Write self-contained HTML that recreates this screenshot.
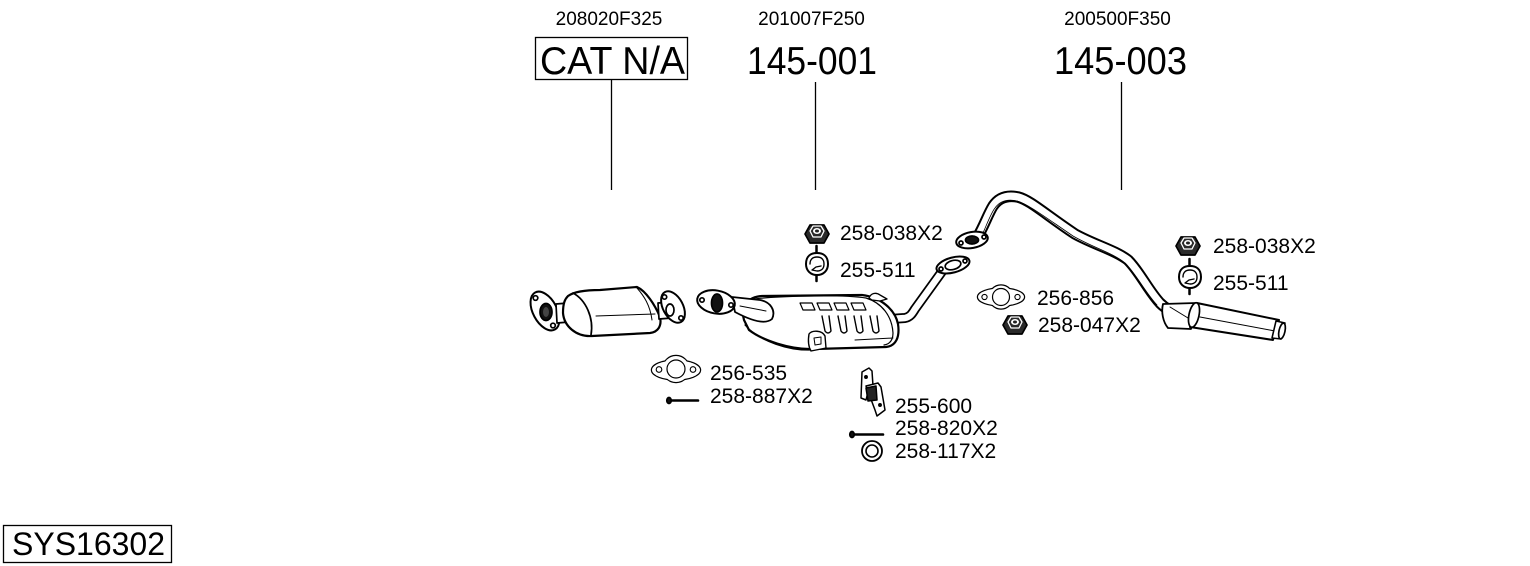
<!DOCTYPE html>
<html><head><meta charset="utf-8">
<style>
html,body{margin:0;padding:0;background:#fff;}
svg{display:block;}
text{font-family:"Liberation Sans",Arial,sans-serif;fill:#000;}
</style></head>
<body>
<svg width="1530" height="566" viewBox="0 0 1530 566" xmlns="http://www.w3.org/2000/svg">
<rect width="1530" height="566" fill="#fff"/>

<!-- Headers -->
<text x="609" y="25" font-size="19" text-anchor="middle">208020F325</text>
<text x="811.5" y="25" font-size="19" text-anchor="middle">201007F250</text>
<text x="1117.5" y="25" font-size="19" text-anchor="middle">200500F350</text>

<rect x="535.5" y="37.5" width="152" height="42" fill="none" stroke="#000" stroke-width="1.3"/>
<text x="540" y="74" font-size="39" textLength="145" lengthAdjust="spacingAndGlyphs">CAT N/A</text>
<text x="747" y="74" font-size="39" textLength="130" lengthAdjust="spacingAndGlyphs">145-001</text>
<text x="1054" y="74" font-size="39" textLength="133" lengthAdjust="spacingAndGlyphs">145-003</text>

<line x1="611.5" y1="80" x2="611.5" y2="190" stroke="#000" stroke-width="1.3"/>
<line x1="815.5" y1="82" x2="815.5" y2="190" stroke="#000" stroke-width="1.3"/>
<line x1="1121.5" y1="82" x2="1121.5" y2="190" stroke="#000" stroke-width="1.3"/>

<!-- SYS box -->
<rect x="3.5" y="525.5" width="168" height="37" fill="none" stroke="#000" stroke-width="1.3"/>
<text x="12" y="555" font-size="32">SYS16302</text>

<!-- Labels -->
<g font-size="21">
<text x="840" y="240">258-038X2</text>
<text x="840" y="277">255-511</text>
<text x="1037" y="305">256-856</text>
<text x="1038" y="332">258-047X2</text>
<text x="1213" y="253">258-038X2</text>
<text x="1213" y="290">255-511</text>
<text x="710" y="380">256-535</text>
<text x="710" y="403">258-887X2</text>
<text x="895" y="413">255-600</text>
<text x="895" y="435">258-820X2</text>
<text x="895" y="458">258-117X2</text>
</g>

<g stroke="#000" stroke-width="1.7" fill="#fff" stroke-linejoin="round" stroke-linecap="round">

<!-- ===== Catalytic converter ===== -->
<ellipse cx="545" cy="311" rx="12" ry="21" transform="rotate(-28 545 311)" stroke-width="2"/>
<ellipse cx="546" cy="312" rx="6" ry="8.5" fill="#111"/>
<ellipse cx="546" cy="312" rx="3" ry="5" fill="#444" stroke="none"/>
<circle cx="535.5" cy="298" r="2.3"/>
<circle cx="553" cy="325.5" r="2.3"/>
<path d="M556 304 L568 303 L569 322 L557 323 Z"/>
<path d="M568 296 C575 291 588 290 600 290 L637 287 C646 291 655 305 660 317 C662 326 658 332 650 333 L592 336 C576 337 564 326 563 313 C563 303 565 299 568 296 Z" stroke-width="2.2"/>
<path d="M573 293 C586 300 594 318 591 335" fill="none"/>
<path d="M596 316 L655 314" fill="none" stroke-width="1"/>
<path d="M637 288 C644 296 650 305 652 320" fill="none" stroke-width="1"/>
<path d="M658 303 L671 302 L672 318 L659 319 Z"/>
<ellipse cx="673" cy="307" rx="10" ry="17" transform="rotate(-28 673 307)" stroke-width="2"/>
<circle cx="664.5" cy="297" r="2.2"/>
<circle cx="681" cy="318" r="2.2"/>
<ellipse cx="670" cy="310" rx="4" ry="6" fill="#fff"/>

<!-- ===== Center muffler 145-001 ===== -->
<path d="M890 319 L905 318 C910 317 912 314 915 309 L946 266" fill="none" stroke="#000" stroke-width="10" stroke-linecap="butt"/>
<path d="M890 319 L905 318 C910 317 912 314 915 309 L946 266" fill="none" stroke="#fff" stroke-width="6.5" stroke-linecap="butt"/>
<ellipse cx="953" cy="265" rx="17" ry="7.5" transform="rotate(-15 953 265)" stroke-width="2"/>
<ellipse cx="953" cy="265" rx="8" ry="4.5" transform="rotate(-15 953 265)"/>
<circle cx="941" cy="269" r="2"/>
<circle cx="965" cy="261" r="2"/>

<path d="M744 320 C740 306 748 297 762 296 L862 295 C880 297 895 309 898 324 C900 337 896 346 886 347 L815 349 C790 350 762 340 749 330 Z" stroke-width="2.2"/>
<path d="M748 300 C770 296 840 294 866 298 C882 303 892 316 893 333 C893 340 890 344 884 345" fill="none" stroke-width="1.2"/>
<path d="M745 325 C760 342 790 351 812 350" fill="none" stroke-width="1.2"/>
<path d="M855 340 L893 338" fill="none" stroke-width="1"/>
<g stroke-width="1.2">
<path d="M800 303 L812 303 L815 310 L803 310 Z"/>
<path d="M817 303 L829 303 L832 310 L820 310 Z"/>
<path d="M834 303 L846 303 L849 310 L837 310 Z"/>
<path d="M851 303 L863 303 L866 310 L854 310 Z"/>
</g>
<g stroke-width="1.4" fill="#fff">
<path d="M822 316 L825 331 Q828 335 831 331 L829 316"/>
<path d="M838 316 L841 331 Q844 335 847 331 L845 316"/>
<path d="M854 316 L857 331 Q860 335 863 331 L861 316"/>
<path d="M870 316 L873 331 Q876 335 879 331 L877 316"/>
</g>
<path d="M869 298 C871 293 876 292 880 295 L887 299 L880 301 L872 300 Z" stroke-width="1.3"/>
<path d="M809 334 C812 330 822 330 825 336 L826 348 L811 351 C808 346 808 340 809 334 Z" stroke-width="1.4"/>
<path d="M814 338 L821 337 L821 344 L815 345 Z" fill="none" stroke-width="1"/>
<path d="M732 297 L760 300 C771 302 776 311 772 319 C765 325 750 320 735 312 Z" stroke-width="1.8"/>
<path d="M740 306 L766 311" fill="none" stroke-width="1"/>
<ellipse cx="716" cy="302" rx="19" ry="11.5" transform="rotate(10 716 302)" stroke-width="2"/>
<ellipse cx="717" cy="303" rx="5.5" ry="9" fill="#111"/>
<circle cx="702" cy="300" r="2.2"/>
<circle cx="731" cy="305" r="2.2"/>

<!-- ===== Long pipe 145-003 ===== -->
<path d="M978 236 C984 226 988 214 993 206 C999 197 1008 195 1018 197 C1030 200 1045 214 1075 234 C1095 245 1115 250 1128 260 C1140 272 1148 290 1160 303 C1166 309 1172 312 1178 313" fill="none" stroke="#000" stroke-width="11.5" stroke-linecap="butt"/>
<path d="M978 236 C984 226 988 214 993 206 C999 197 1008 195 1018 197 C1030 200 1045 214 1075 234 C1095 245 1115 250 1128 260 C1140 272 1148 290 1160 303 C1166 309 1172 312 1178 313" fill="none" stroke="#fff" stroke-width="7.5" stroke-linecap="butt"/>
<path d="M983 233 C987 224 991 213 995 208 C1000 201 1008 199 1017 201 C1028 204 1045 217 1073 236 C1094 248 1113 253 1125 263 C1137 275 1145 292 1157 305" fill="none" stroke="#000" stroke-width="0.8"/>
<ellipse cx="972" cy="240" rx="16" ry="8" transform="rotate(-10 972 240)" stroke-width="2"/>
<ellipse cx="972" cy="240" rx="6.5" ry="4" fill="#111"/>
<circle cx="961" cy="243" r="2"/>
<circle cx="984" cy="237" r="2"/>

<!-- rear muffler -->
<path d="M1163 304 L1196 303 L1191 329 L1168 328 C1163 322 1161 312 1163 304 Z" stroke-width="1.8"/>
<path d="M1170 307 L1188 318" fill="none" stroke-width="1"/>
<path d="M1197 303 L1279 320 L1273 340 L1190 327 Z" stroke-width="2"/>
<ellipse cx="1194" cy="315" rx="5" ry="12.5" transform="rotate(12 1194 315)"/>
<path d="M1200 317 L1275 331" fill="none" stroke-width="1"/>
<path d="M1276 321 L1285 323 L1281 339 L1272 338 Z" stroke-width="1.6"/>
<ellipse cx="1282" cy="331" rx="3" ry="8" transform="rotate(12 1282 331)"/>

<!-- ===== nuts ===== -->
<g>
<polygon points="805,234 810,225 824,225 829,234 824,243 810,243" fill="#2a2a2a"/>
<polygon points="810,231 813,226 821,226 824,231 821,237 813,237" fill="none" stroke="#fff" stroke-width="1.3"/>
<ellipse cx="817" cy="231" rx="4" ry="3" fill="#fff" stroke="none"/>
<ellipse cx="817" cy="231" rx="2" ry="1.5" fill="#222" stroke="none"/>
</g>
<g>
<polygon points="1176,246 1181,237 1195,237 1200,246 1195,255 1181,255" fill="#2a2a2a"/>
<polygon points="1181,243 1184,238 1192,238 1195,243 1192,249 1184,249" fill="none" stroke="#fff" stroke-width="1.3"/>
<ellipse cx="1188" cy="243" rx="4" ry="3" fill="#fff" stroke="none"/>
<ellipse cx="1188" cy="243" rx="2" ry="1.5" fill="#222" stroke="none"/>
</g>
<g>
<polygon points="1003,325 1008,316 1022,316 1027,325 1022,334 1008,334" fill="#2a2a2a"/>
<polygon points="1008,322 1011,317 1019,317 1022,322 1019,328 1011,328" fill="none" stroke="#fff" stroke-width="1.3"/>
<ellipse cx="1015" cy="322" rx="4" ry="3" fill="#fff" stroke="none"/>
<ellipse cx="1015" cy="322" rx="2" ry="1.5" fill="#222" stroke="none"/>
</g>

<!-- hanger left -->
<g>
<line x1="816.5" y1="246" x2="816.5" y2="254" stroke-width="2.5"/>
<line x1="816.5" y1="274" x2="816.5" y2="281" stroke-width="2.5"/>
<path d="M806 264 C806 256 811 253 817 253 C823 253 828 256 828 264 C828 271 823 275 817 275 C811 275 806 271 806 264 Z" stroke-width="2"/>
<path d="M810 264 C810 259 813 257 817 257 C821 257 824 259 824 264 C824 269 821 271 817 271 L812 270 L816 267 L821 266" fill="none" stroke-width="1.4"/>
</g>
<!-- hanger right -->
<g>
<line x1="1189.5" y1="259" x2="1189.5" y2="267" stroke-width="2.5"/>
<line x1="1189.5" y1="287" x2="1189.5" y2="294" stroke-width="2.5"/>
<path d="M1179 277 C1179 269 1184 266 1190 266 C1196 266 1201 269 1201 277 C1201 284 1196 288 1190 288 C1184 288 1179 284 1179 277 Z" stroke-width="2"/>
<path d="M1183 277 C1183 272 1186 270 1190 270 C1194 270 1197 272 1197 277 C1197 282 1194 284 1190 284 L1185 283 L1189 280 L1194 279" fill="none" stroke-width="1.4"/>
</g>

<!-- gasket 256-856 -->
<g>
<ellipse cx="1001" cy="297" rx="23" ry="8.5" stroke-width="2.4"/>
<circle cx="1001" cy="297" r="11.5" stroke-width="2.4"/>
<ellipse cx="1001" cy="297" rx="23" ry="8.5" stroke="none"/>
<circle cx="1001" cy="297" r="11.5" stroke="none"/>
<circle cx="1001" cy="297" r="8.5" stroke-width="1.2"/>
<circle cx="984.5" cy="297" r="2.6" stroke-width="1.1"/>
<circle cx="1017.5" cy="297" r="2.6" stroke-width="1.1"/>
</g>
<!-- gasket 256-535 -->
<g>
<ellipse cx="676" cy="370" rx="24" ry="9.5" stroke-width="2.4"/>
<circle cx="676" cy="369" r="13" stroke-width="2.4"/>
<ellipse cx="676" cy="370" rx="24" ry="9.5" stroke="none"/>
<circle cx="676" cy="369" r="13" stroke="none"/>
<circle cx="676" cy="369" r="9" stroke-width="1.2"/>
<circle cx="659" cy="369.5" r="2.8" stroke-width="1.1"/>
<circle cx="693" cy="369.5" r="2.8" stroke-width="1.1"/>
</g>

<!-- bolts -->
<line x1="670" y1="400.5" x2="698" y2="400.5" stroke-width="2.6"/>
<ellipse cx="669" cy="400.5" rx="2.2" ry="3" fill="#111"/>
<line x1="854" y1="434.5" x2="883" y2="434.5" stroke-width="2.6"/>
<ellipse cx="852" cy="434.5" rx="2.2" ry="3" fill="#111"/>

<!-- washer -->
<circle cx="872" cy="451" r="10" stroke-width="1.8"/>
<circle cx="872" cy="451" r="6" stroke-width="1.6"/>

<!-- bracket 255-600 -->
<g stroke-width="1.5">
<path d="M862 372 L869 368 L872 371 L873 386 L868 392 L866 400 L861 398 Z"/>
<path d="M866 386 L878 383 L881 387 L885 410 L877 416 L875 410 Z"/>
<path d="M866 388 L876 386 L877 400 L868 401 Z" fill="#222"/>
<circle cx="866" cy="377" r="1.2" fill="#000"/>
<circle cx="880" cy="405" r="1.2" fill="#000"/>
</g>

</g>
</svg>
</body></html>
